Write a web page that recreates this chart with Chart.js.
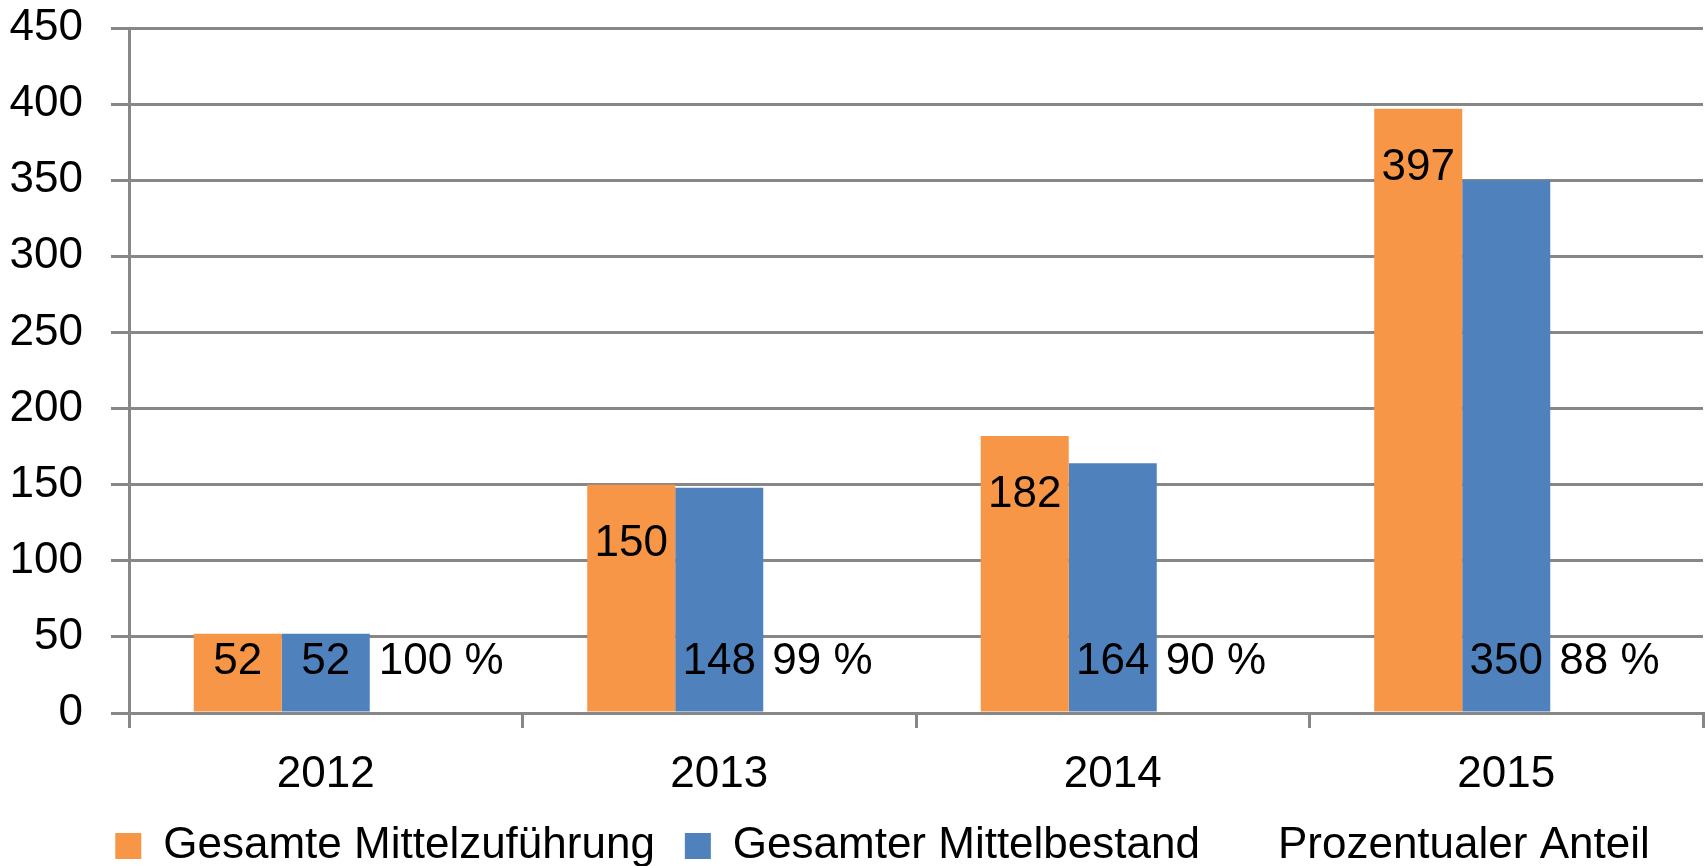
<!DOCTYPE html>
<html>
<head>
<meta charset="utf-8">
<script src="https://cdn.jsdelivr.net/npm/chart.js@4"></script>
<style>
  html, body { margin: 0; padding: 0; background: #fff; }
  #wrap { width: 1707px; height: 866px; }
</style>
</head>
<body>
<div id="wrap"><canvas id="chart"></canvas></div>
<script>
const years = ['2012', '2013', '2014', '2015'];
const zufuehrung = [52, 150, 182, 397];
const bestand = [52, 148, 164, 350];
const anteil = [100, 99, 90, 88];
const yTicks = [0, 50, 100, 150, 200, 250, 300, 350, 400, 450];

const FONT = 'Liberation Sans, Arial, sans-serif';
const SIZE = 44;
const GRID = '#878787';

// value labels, placed like the Excel ones
const barLabels = {
    id: 'barLabels',
    afterDatasetsDraw(chart) {
        const ctx = chart.ctx;
        ctx.save();
        ctx.font = SIZE + 'px ' + FONT;
        ctx.fillStyle = '#000';
        ctx.textBaseline = 'middle';
        chart.data.datasets.forEach((ds, di) => {
            chart.getDatasetMeta(di).data.forEach((bar, i) => {
                const low = bar.base - 50;
                if (di === 0) {
                    ctx.textAlign = 'center';
                    ctx.fillText(String(ds.data[i]), bar.x, Math.min(bar.y + 59, low));
                } else if (di === 1) {
                    ctx.textAlign = 'center';
                    ctx.fillText(String(ds.data[i]), bar.x, low);
                } else {
                    ctx.textAlign = 'left';
                    ctx.fillText(anteil[i] + ' %', bar.x - bar.width / 2 + 9, low);
                }
            });
        });
        ctx.restore();
    }
};

// nudge the legend a bit to the right, as in the original
const legendShift = {
    id: 'legendShift',
    afterLayout(chart) {
        chart.legend.left += 31;
        chart.legend.right += 31;
    }
};

const ctx = document.getElementById('chart').getContext('2d');
const chart = new Chart(ctx, {
    type: 'bar',
    data: {
        labels: years,
        datasets: [{
            label: 'Gesamte Mittelzuführung',
            data: zufuehrung,
            backgroundColor: '#F79646',
            borderWidth: 0
        }, {
            label: 'Gesamter Mittelbestand',
            data: bestand,
            backgroundColor: '#4F81BD',
            borderWidth: 0
        }, {
            label: 'Prozentualer Anteil',
            data: anteil.map(p => p / 100),
            backgroundColor: 'rgba(255,255,255,0)',
            borderWidth: 0
        }]
    },
    options: {
        responsive: true,
        maintainAspectRatio: false,
        animation: false,
        categoryPercentage: 0.671,
        barPercentage: 1,
        layout: { padding: { top: 28, right: 4, left: 0, bottom: -12 } },
        plugins: {
            tooltip: { enabled: false },
            legend: {
                position: 'bottom',
                labels: {
                    font: { family: FONT, size: SIZE },
                    color: '#000',
                    boxWidth: 26,
                    boxHeight: 26,
                    padding: 30
                }
            }
        },
        scales: {
            x: {
                afterFit(scale) { scale.height = 81; },
                grid: {
                    drawOnChartArea: false,
                    drawTicks: true,
                    tickLength: 15,
                    color: GRID,
                    lineWidth: 3,
                    offset: true
                },
                border: { color: GRID, width: 3 },
                ticks: {
                    font: { family: FONT, size: SIZE },
                    color: '#000',
                    padding: 20
                }
            },
            y: {
                min: 0,
                max: 450,
                afterFit(scale) {
                    scale.width = 129;
                    scale.paddingTop = 0;
                    scale.paddingBottom = 0;
                },
                afterBuildTicks(scale) { scale.ticks = yTicks.map(v => ({ value: v })); },
                grid: {
                    color: GRID,
                    lineWidth: 3,
                    tickLength: 18
                },
                border: { color: GRID, width: 3 },
                ticks: {
                    font: { family: FONT, size: SIZE },
                    color: '#000',
                    padding: 28
                }
            }
        }
    },
    plugins: [barLabels, legendShift]
});
</script>
</body>
</html>
